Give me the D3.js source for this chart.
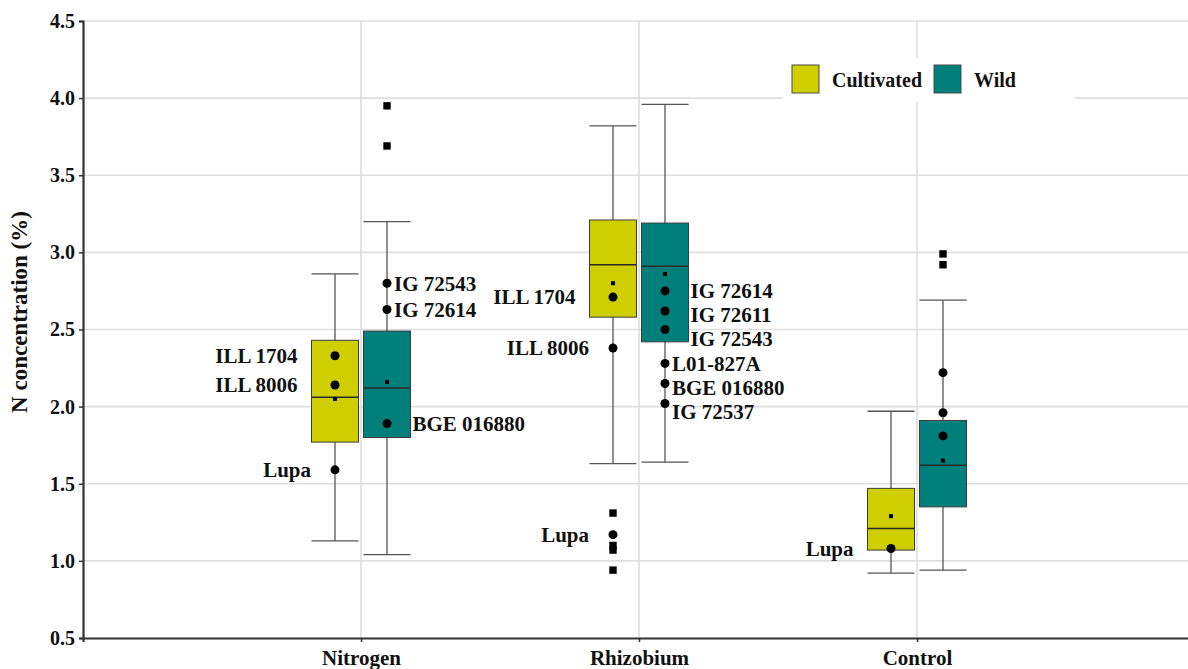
<!DOCTYPE html>
<html>
<head>
<meta charset="utf-8">
<script src="https://cdn.jsdelivr.net/npm/d3@7"></script>
<style>
  html, body { margin: 0; padding: 0; background: #fff; }
  svg { display: block; }
  text { font-family: "Liberation Serif", "Times New Roman", serif; font-weight: bold; fill: #111; }
</style>
</head>
<body>
<svg id="chart" width="1188" height="669"></svg>
<script>
// Treatments and germplasm types
const treatments = ["Nitrogen", "Rhizobium", "Control"];
const types = ["Cultivated", "Wild"];
const yTicks = [0.5, 1.0, 1.5, 2.0, 2.5, 3.0, 3.5, 4.0, 4.5];

// Box summaries per treatment: [lower whisker, Q1, median, Q3, upper whisker, mean]
const cultivatedStats = [
  [1.13, 1.77, 2.06, 2.43, 2.86, 2.05],
  [1.63, 2.58, 2.92, 3.21, 3.82, 2.80],
  [0.92, 1.07, 1.21, 1.47, 1.97, 1.29]
];
const wildStats = [
  [1.04, 1.80, 2.12, 2.49, 3.20, 2.16],
  [1.64, 2.42, 2.91, 3.19, 3.96, 2.86],
  [0.94, 1.35, 1.62, 1.91, 2.69, 1.65]
];

// Highlighted accessions: [treatment, type, name, N %]
const accessions = [
  ["Nitrogen", "Cultivated", "ILL 1704", 2.33],
  ["Nitrogen", "Cultivated", "ILL 8006", 2.14],
  ["Nitrogen", "Cultivated", "Lupa", 1.59],
  ["Nitrogen", "Wild", "IG 72543", 2.80],
  ["Nitrogen", "Wild", "IG 72614", 2.63],
  ["Nitrogen", "Wild", "BGE 016880", 1.89],
  ["Rhizobium", "Cultivated", "ILL 1704", 2.71],
  ["Rhizobium", "Cultivated", "ILL 8006", 2.38],
  ["Rhizobium", "Cultivated", "Lupa", 1.17],
  ["Rhizobium", "Wild", "IG 72614", 2.75],
  ["Rhizobium", "Wild", "IG 72611", 2.62],
  ["Rhizobium", "Wild", "IG 72543", 2.50],
  ["Rhizobium", "Wild", "L01-827A", 2.28],
  ["Rhizobium", "Wild", "BGE 016880", 2.15],
  ["Rhizobium", "Wild", "IG 72537", 2.02],
  ["Control", "Cultivated", "Lupa", 1.08],
  ["Control", "Wild", "", 2.22],
  ["Control", "Wild", "", 1.96],
  ["Control", "Wild", "", 1.81]
];

// Outlying values: [treatment, type, N %]
const outliers = [
  ["Nitrogen", "Wild", 3.95],
  ["Nitrogen", "Wild", 3.69],
  ["Rhizobium", "Cultivated", 1.31],
  ["Rhizobium", "Cultivated", 1.10],
  ["Rhizobium", "Cultivated", 1.07],
  ["Rhizobium", "Cultivated", 0.94],
  ["Control", "Wild", 2.99],
  ["Control", "Wild", 2.92]
];

const colors = { Cultivated: "#cfcf00", Wild: "#007f7b" };

const svg = d3.select("#chart");
const plotLeft = 83, plotBottom = 638, plotTop = 21, plotRight = 1195;

const x = d3.scalePoint().domain(treatments).range([plotLeft, plotRight]).padding(1);
const y = d3.scaleLinear().domain([0.5, 4.5]).range([plotBottom, plotTop]);
const offset = d3.scaleOrdinal().domain(types).range([-26, 26]);
const boxW = 47;

// Grid
const grid = svg.append("g");
grid.selectAll("line.h").data(yTicks.slice(1)).join("line")
  .attr("x1", plotLeft).attr("x2", 1188)
  .attr("y1", d => y(d)).attr("y2", d => y(d))
  .attr("stroke", "#dedede").attr("stroke-width", 1.6);
grid.selectAll("line.v").data(treatments).join("line")
  .attr("x1", d => x(d)).attr("x2", d => x(d))
  .attr("y1", plotTop).attr("y2", plotBottom)
  .attr("stroke", "#dedede").attr("stroke-width", 1.6);

// Legend (white panel over the grid)
const legend = svg.append("g");
legend.append("rect").attr("x", 783).attr("y", 58).attr("width", 292).attr("height", 44).attr("fill", "#fff");
const legendX = d3.scaleOrdinal().domain(types).range([792, 934]);
types.forEach(t => {
  legend.append("rect").attr("x", legendX(t)).attr("y", 65).attr("width", 27).attr("height", 28)
    .attr("fill", colors[t]).attr("stroke", "#4a4a4a").attr("stroke-width", 1);
  legend.append("text").attr("x", legendX(t) + 40).attr("y", 87)
    .attr("font-size", 20).text(t);
});

// Boxes
const statSets = { Cultivated: cultivatedStats, Wild: wildStats };
const boxes = [];
types.forEach(t => treatments.forEach((g, i) => {
  const s = statSets[t][i];
  boxes.push({ g, t, lo: s[0], q1: s[1], med: s[2], q3: s[3], hi: s[4], mean: s[5], cx: x(g) + offset(t) });
}));

const bx = svg.append("g").selectAll("g").data(boxes).join("g");
bx.append("line").attr("x1", d => d.cx).attr("x2", d => d.cx)
  .attr("y1", d => y(d.hi)).attr("y2", d => y(d.lo))
  .attr("stroke", "#555").attr("stroke-width", 1.3);
bx.append("line").attr("x1", d => d.cx - boxW / 2).attr("x2", d => d.cx + boxW / 2)
  .attr("y1", d => y(d.hi)).attr("y2", d => y(d.hi))
  .attr("stroke", "#555").attr("stroke-width", 1.3);
bx.append("line").attr("x1", d => d.cx - boxW / 2).attr("x2", d => d.cx + boxW / 2)
  .attr("y1", d => y(d.lo)).attr("y2", d => y(d.lo))
  .attr("stroke", "#555").attr("stroke-width", 1.3);
bx.append("rect").attr("x", d => d.cx - boxW / 2).attr("width", boxW)
  .attr("y", d => y(d.q3)).attr("height", d => y(d.q1) - y(d.q3))
  .attr("fill", d => colors[d.t]).attr("stroke", "#3c3c3c").attr("stroke-width", 1);
bx.append("line").attr("x1", d => d.cx - boxW / 2).attr("x2", d => d.cx + boxW / 2)
  .attr("y1", d => y(d.med)).attr("y2", d => y(d.med))
  .attr("stroke", "#2a2a2a").attr("stroke-width", 1.5);
bx.append("rect").attr("x", d => d.cx - 2).attr("y", d => y(d.mean) - 2)
  .attr("width", 4).attr("height", 4).attr("fill", "#000");

// Outliers
svg.append("g").selectAll("rect").data(outliers).join("rect")
  .attr("x", d => x(d[0]) + offset(d[1]) - 3.7)
  .attr("y", d => y(d[2]) - 3.7)
  .attr("width", 7.4).attr("height", 7.4).attr("fill", "#000");

// Highlighted accessions with labels
const accG = svg.append("g");
const boxOf = (g, t) => boxes.find(b => b.g === g && b.t === t);
treatments.forEach(g => types.forEach(t => {
  const b = boxOf(g, t);
  const pts = accessions.filter(a => a[0] === g && a[1] === t).sort((a, c) => c[3] - a[3]);
  let lastY = -Infinity;
  pts.forEach(p => {
    const cy = y(p[3]);
    accG.append("circle").attr("cx", b.cx).attr("cy", cy).attr("r", 4.5).attr("fill", "#000");
    if (!p[2]) return;
    const inside = p[3] >= b.q1 && p[3] <= b.q3;
    const ly = Math.max(cy, lastY + 24);
    lastY = ly;
    const lx = t === "Cultivated"
      ? (inside ? b.cx - boxW / 2 - 14 : b.cx - 24)
      : (inside ? b.cx + boxW / 2 + 2 : b.cx + 7);
    accG.append("text").attr("x", lx).attr("y", ly).attr("dy", "0.35em")
      .attr("text-anchor", t === "Cultivated" ? "end" : "start")
      .attr("font-size", 21).text(p[2]);
  });
}));

// Axes
const yAxis = svg.append("g").attr("transform", `translate(${plotLeft},0)`)
  .call(d3.axisLeft(y).tickValues(yTicks).tickFormat(d3.format(".1f")).tickSize(4).tickPadding(4));
const xAxis = svg.append("g").attr("transform", `translate(0,${plotBottom})`)
  .call(d3.axisBottom(x).tickSize(4).tickPadding(8));
[yAxis, xAxis].forEach(a => {
  a.select(".domain").attr("stroke", "#333").attr("stroke-width", 2.2);
  a.selectAll(".tick line").attr("stroke", "#333").attr("stroke-width", 1.5);
  a.selectAll(".tick text").attr("font-family", "Liberation Serif, serif")
    .attr("font-weight", "bold").attr("font-size", 20).attr("fill", "#111");
});
xAxis.selectAll(".tick text").attr("font-size", 21);

svg.append("text")
  .attr("transform", "translate(27,312) rotate(-90)")
  .attr("text-anchor", "middle").attr("font-size", 23)
  .text("N concentration (%)");
</script>
</body>
</html>
